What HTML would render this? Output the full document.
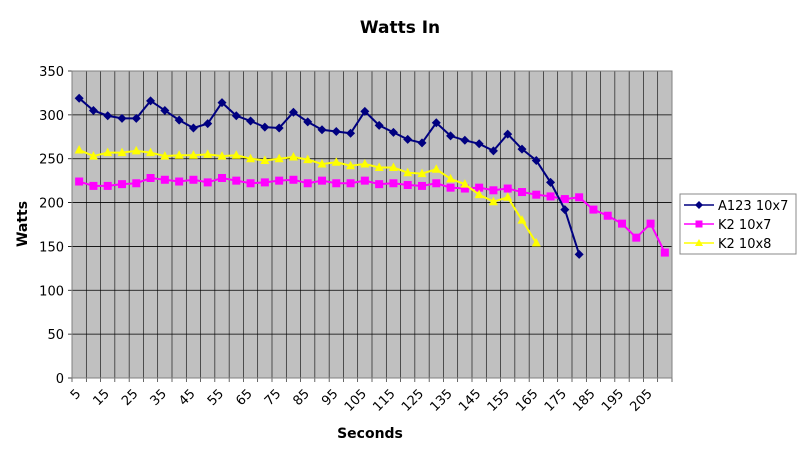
<!DOCTYPE html>
<html><head><meta charset="utf-8"><style>
body{margin:0;background:#fff;}
svg text{font-family:"DejaVu Sans","Liberation Sans",sans-serif;}
</style></head><body>
<svg id="chart" width="800" height="453" xmlns="http://www.w3.org/2000/svg">
<rect width="800" height="453" fill="#fff"/>
<text x="400" y="33" text-anchor="middle" font-size="17" font-weight="bold">Watts In</text>
<text x="370" y="438" text-anchor="middle" font-size="14" font-weight="bold">Seconds</text>
<text transform="translate(27,224) rotate(-90)" text-anchor="middle" font-size="14" font-weight="bold">Watts</text>
<g id="plot"></g>
<g>
<rect x="680" y="194" width="116" height="60" fill="#fff" stroke="#888"/>
<g>
<line x1="684" y1="205" x2="714" y2="205" stroke="#000080" stroke-width="1.5"/>
<path d="M699 201 L703 205 L699 209 L695 205Z" fill="#000080"/>
<text x="718" y="210" font-size="13">A123 10x7</text></g>
<g>
<line x1="684" y1="224" x2="714" y2="224" stroke="#ff00ff" stroke-width="1.5"/>
<rect x="695.5" y="220.5" width="7" height="7" fill="#ff00ff"/>
<text x="718" y="229" font-size="13">K2 10x7</text></g>
<g>
<line x1="684" y1="243" x2="714" y2="243" stroke="#ffff00" stroke-width="1.5"/>
<path d="M699 239 L703 246 L695 246Z" fill="#ffff00"/>
<text x="718" y="248" font-size="13">K2 10x8</text></g>
</g>
</svg>
<script>
const categories = [];
for (let s = 5; s <= 210; s += 5) categories.push(s);
const yTicks = [0,50,100,150,200,250,300,350];
const a123 = [319,305,299,296,296,316,305,294,285,290,314,299,293,286,285,303,292,283,281,279,304,288,280,272,268,291,276,271,267,259,278,261,248,223,192,141];
const k2x7 = [224,219,219,221,222,228,226,224,226,223,228,225,222,223,225,226,222,225,222,222,225,221,222,220,219,222,217,216,217,214,216,212,209,207,204,206,192,185,176,160,176,143];
const k2x8 = [260,253,257,257,259,257,253,254,254,255,253,254,250,248,250,252,249,244,246,242,244,240,240,234,233,238,227,221,209,201,206,180,154];

const L=72, R=672, T=71, B=378, yMax=350;
const n = categories.length, bw=(R-L)/n;
const xs = i => L + bw*(i+0.5);
const ys = v => B - v/yMax*(B-T);
const NS="http://www.w3.org/2000/svg";
const g=document.getElementById('plot');
function mk(tag, attrs, parent){const e=document.createElementNS(NS,tag);for(const k in attrs)e.setAttribute(k,attrs[k]);(parent||g).appendChild(e);return e;}

const bg=mk('rect',{x:L,y:T,width:R-L,height:B-T,fill:'#c0c0c0'});


for(let i=0;i<=n;i++){
  const x=L+bw*i;
  const l=mk('line',{x1:x,y1:T,x2:x,y2:B+4,stroke:'#000','stroke-width':0.6});
  
  
}
yTicks.forEach(v=>{
  const y=ys(v);
  const l=mk('line',{x1:L-4,y1:y,x2:R,y2:y,stroke:'#000','stroke-width':0.8});
  
  
  const t=mk('text',{x:L-8,y:y+5,'text-anchor':'end','font-size':13});
  t.textContent=v;
  
  
});
mk('rect',{x:L,y:T,width:R-L,height:B-T,fill:'none',stroke:'#808080'});
categories.forEach((c,i)=>{
  if(i%2) return;
  const x=L+bw*i+3, y=B+10;
  const t=mk('text',{x:x,y:y,'text-anchor':'end','font-size':13,transform:`rotate(-45 ${x} ${y})`,dy:'0.7em'});
  t.textContent=c;
  
  
});
function series(data,color,shape,name){
  const sg=mk('g',{});
  
  
  mk('polyline',{points:data.map((v,i)=>xs(i)+','+ys(v)).join(' '),fill:'none',stroke:color,'stroke-width':2},sg);
  data.forEach((v,i)=>{
    const x=xs(i), y=ys(v); let m;
    if(shape==='d') m=mk('path',{d:`M${x} ${y-4.5}L${x+4.5} ${y}L${x} ${y+4.5}L${x-4.5} ${y}Z`,fill:color},sg);
    else if(shape==='s') m=mk('rect',{x:x-4,y:y-4,width:8,height:8,fill:color},sg);
    else m=mk('path',{d:`M${x} ${y-5}L${x+4.5} ${y+3.5}L${x-4.5} ${y+3.5}Z`,fill:color},sg);
    
    
  });
}
series(k2x7,'#ff00ff','s','series-k2-10x7');
series(k2x8,'#ffff00','t','series-k2-10x8');
series(a123,'#000080','d','series-a123-10x7');
</script>
</body></html>
